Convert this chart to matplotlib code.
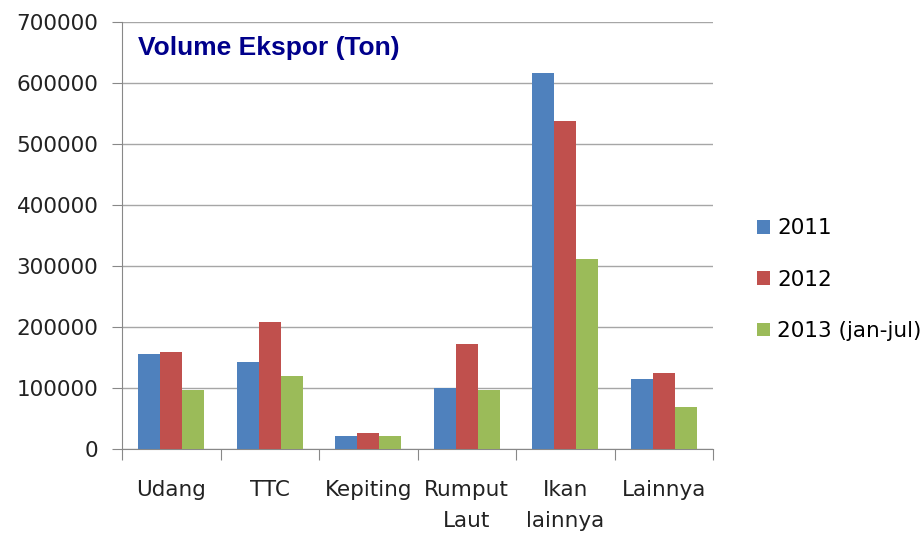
import numpy as np
import matplotlib.pyplot as plt
from matplotlib.ticker import MultipleLocator

plt.rcParams['font.family'] = ['DejaVu Sans']
plt.rcParams['font.size'] = 15.5

# data
categories = ['Udang', 'TTC', 'Kepiting', 'Rumput\nLaut', 'Ikan\nlainnya', 'Lainnya']
series_names = ['2011', '2012', '2013 (jan-jul)']
v2011 = [155000, 142000, 21000, 100000, 617000, 114000]
v2012 = [159000, 209000, 26000, 172000, 538000, 125000]
v2013 = [97000, 120000, 21000, 97000, 311000, 69000]
colors = ['#4F81BD', '#C0504D', '#9BBB59']

fig = plt.figure(figsize=(9.23, 5.34), dpi=100)
ax = fig.add_axes([0.1322, 0.1592, 0.6403, 0.7996])

x = np.arange(len(categories))
w = 1 / 4.5  # Excel gap width 150%
for i, (vals, name) in enumerate(zip([v2011, v2012, v2013], series_names)):
    ax.bar(x + (i - 1) * w, vals, width=w, color=colors[i], label=name, zorder=3)

ax.set_xlim(-0.5, len(categories) - 0.5)
ax.set_ylim(0, 700000)
ax.yaxis.set_major_locator(MultipleLocator(100000))
ax.grid(axis='y', color='#A6A6A6', linewidth=1, zorder=0)

ax.set_xticks(np.arange(len(categories) + 1) - 0.5)
ax.set_xticklabels([])
ax.set_xticks(x, minor=True)
ax.set_xticklabels(categories, minor=True, linespacing=1.7)
ax.tick_params(axis='x', which='major', length=8, color='#888888')
ax.tick_params(axis='x', which='minor', length=0, pad=22)
ax.tick_params(axis='y', length=7, color='#888888', pad=10)
for lab in ax.get_yticklabels():
    lab.set_color('#222222')
for lab in ax.get_xticklabels(minor=True):
    lab.set_color('#222222')

for s in ['top', 'right']:
    ax.spines[s].set_visible(False)
for s in ['left', 'bottom']:
    ax.spines[s].set_color('#888888')

ax.text(0.027, 0.923, 'Volume Ekspor (Ton)', transform=ax.transAxes,
        family=['Liberation Sans'], fontweight='bold', fontstretch='condensed',
        fontsize=19, color='#00008B', va='baseline', ha='left')

fig.legend(loc='center left', bbox_to_anchor=(0.820, 0.476), frameon=False,
           borderpad=0, borderaxespad=0, handlelength=0.6, handleheight=0.6,
           handletextpad=0.35, labelspacing=1.46)

fig.savefig('out.png', dpi=100)
